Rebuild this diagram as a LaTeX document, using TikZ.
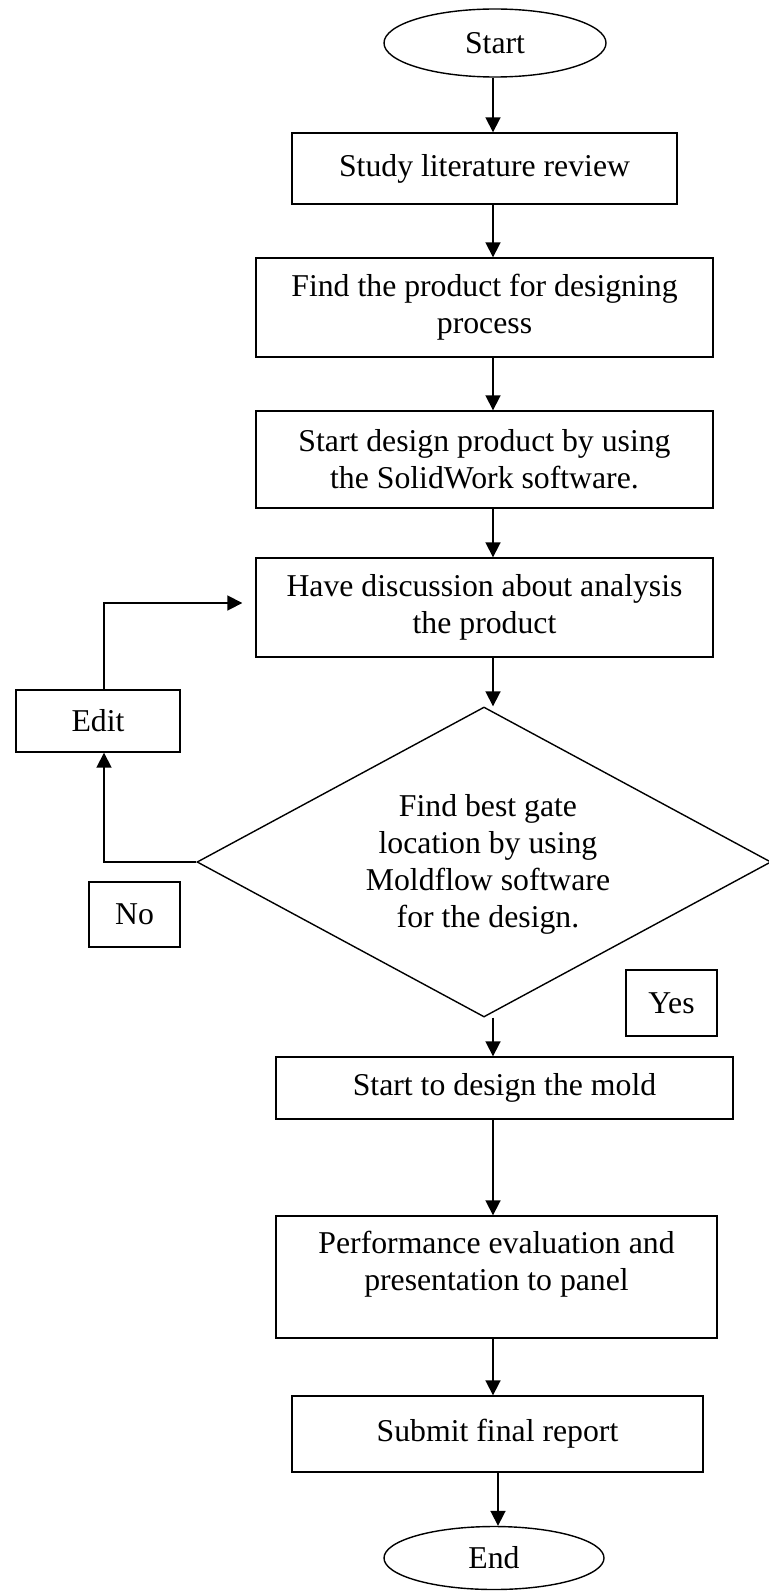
\documentclass[tikz,border=0pt]{standalone}
\usepackage{fontspec}
\setmainfont{Liberation Serif}
\usetikzlibrary{arrows.meta,shapes.geometric}

\begin{document}
\begin{tikzpicture}[
  x=1pt, y=-1pt,
  every node/.style={font=\fontsize{31.75}{37}\selectfont, align=center},
  procbox/.style={draw, line width=1.4pt, inner sep=0pt},
  termnode/.style={draw, ellipse, line width=1.4pt, inner sep=0pt},
  decision/.style={draw, diamond, line width=1.4pt, inner sep=0pt},
  flow/.style={line width=1.8pt, -{Triangle[length=15pt,width=15pt]}},
]
\useasboundingbox (0,0) rectangle (768,1592);

% column in which the vertical connectors run
\coordinate (col) at (493,0);
\coordinate (colend) at (498,0);

% terminals and process steps
\node[termnode, minimum width=222pt, minimum height=68pt] (start) at (495,43) {Start};
\node[procbox, minimum width=385pt, minimum height=71pt] (study) at (484.5,168.5) {Study literature review};
\node[procbox, minimum width=457pt, minimum height=99pt] (find) at (484.5,307.5) {Find the product for designing\\process};
\node[procbox, minimum width=457pt, minimum height=97pt] (sdesign) at (484.5,459.5) {Start design product by using\\the SolidWork software.};
\node[procbox, minimum width=457pt, minimum height=99pt] (have) at (484.5,607.5) {Have discussion about analysis\\the product};

% decision
\node[decision, minimum width=574pt, minimum height=310pt] (gate) at (484,862) {};
\node (gatetext) at (488,864) {Find best gate\\location by using\\Moldflow software\\for the design.};

% loop-back step and branch labels
\node[procbox, minimum width=164pt, minimum height=62pt] (edit) at (98,721) {Edit};
\node[procbox, minimum width=91pt, minimum height=65pt] (no) at (134.5,914.5) {No};
\node[procbox, minimum width=91pt, minimum height=66pt] (yes) at (671.5,1003) {Yes};

% remaining steps
\node[procbox, minimum width=457pt, minimum height=62pt] (mold) at (504.5,1088) {Start to design the mold};
\node[procbox, minimum width=441pt, minimum height=122pt] (perf) at (496.5,1277) {};
\node (perftext) at (496.5,1264) {Performance evaluation and\\presentation to panel};
\node[procbox, minimum width=411pt, minimum height=76pt] (submit) at (497.5,1434) {Submit final report};
\node[termnode, minimum width=220pt, minimum height=63pt] (end) at (494,1558) {End};

% main flow
\draw[flow] (start.south -| col) -- (study.north -| col);
\draw[flow] (study.south -| col) -- (find.north -| col);
\draw[flow] (find.south -| col) -- (sdesign.north -| col);
\draw[flow] (sdesign.south -| col) -- (have.north -| col);
\draw[flow] (have.south -| col) -- (gate.north -| col);
\draw[flow] (gate.south -| col) -- (mold.north -| col);
\draw[flow] (mold.south -| col) -- (perf.north -| col);
\draw[flow] (perf.south -| col) -- (submit.north -| col);
\draw[flow] (submit.south -| colend) -- (end.north -| colend);

% "No" branch back to the discussion step
\coordinate (nturn) at (104,862);
\coordinate (eturn) at (104,603);
\draw[flow] (gate.west) -- (nturn) -- (nturn |- edit.south);
\draw[flow, shorten >=13pt] (edit.north -| eturn) -- (eturn) -- (eturn -| have.west);
\end{tikzpicture}
\end{document}
